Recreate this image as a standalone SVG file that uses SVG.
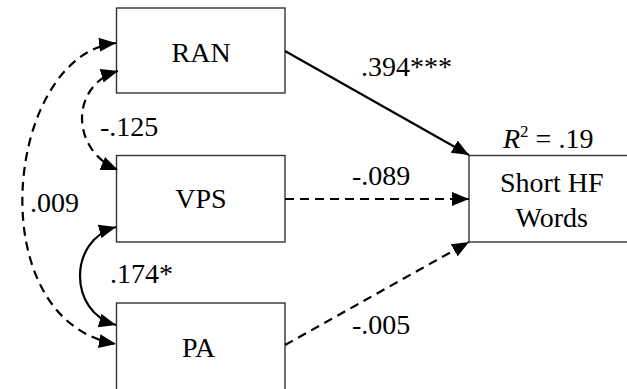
<svg xmlns="http://www.w3.org/2000/svg" width="627" height="389" viewBox="0 0 627 389">
<defs>
<style>
.box{fill:#fff;stroke:#333;stroke-width:1.4}
.e{fill:none;stroke:#000;stroke-width:2.2}
.d{stroke-dasharray:9,6}
</style>
<marker id="ah" viewBox="0 0 17 14" refX="17" refY="7" markerWidth="17" markerHeight="14" markerUnits="userSpaceOnUse" orient="auto-start-reverse">
<path d="M0,0 L17,7 L0,14 Z" fill="#000"/>
</marker>
</defs>
<rect width="627" height="389" fill="#fff"/>
<g id="RAN"><rect class="box" x="116.5" y="8" width="168.5" height="85"/><text x="171.5" y="62" font-family="Liberation Serif" font-size="28">RAN</text></g>
<g id="VPS"><rect class="box" x="116.5" y="155.5" width="168.5" height="86.5"/><text x="175.3" y="208" font-family="Liberation Serif" font-size="28">VPS</text></g>
<g id="PA"><rect class="box" x="116.5" y="303" width="168.5" height="100"/><text x="182" y="357" font-family="Liberation Serif" font-size="28">PA</text></g>
<g id="ShortHF"><rect class="box" x="469" y="155.5" width="200" height="86.5"/><text x="500" y="192" font-family="Liberation Serif" font-size="28">Short HF</text><text x="515.5" y="227" font-family="Liberation Serif" font-size="28">Words</text><text x="503" y="148" font-family="Liberation Serif" font-size="28"><tspan font-style="italic">R</tspan><tspan font-size="17" dy="-11">2</tspan><tspan dy="11"> = .19</tspan></text></g>
<g id="connectors">
<path class="e" d="M285,51 L469,155" marker-end="url(#ah)"/>
<path class="e d" d="M285,199 L469,199" marker-end="url(#ah)"/>
<path class="e d" d="M285,345 L469,242" marker-end="url(#ah)"/>
<path class="e d" d="M116,43 C5,55 -22,320 116,344" marker-start="url(#ah)" marker-end="url(#ah)"/>
<path class="e d" d="M118,71 C70,85 70,150 118,170" marker-start="url(#ah)" marker-end="url(#ah)"/>
<path class="e" d="M116,227 C68,240 68,312 116,325" marker-start="url(#ah)" marker-end="url(#ah)"/>
</g>
<text x="361" y="76" font-family="Liberation Serif" font-size="28">.394***</text>
<text x="352" y="185" font-family="Liberation Serif" font-size="28">-.089</text>
<text x="352" y="334" font-family="Liberation Serif" font-size="28">-.005</text>
<text x="100" y="136" font-family="Liberation Serif" font-size="28">-.125</text>
<text x="30" y="212" font-family="Liberation Serif" font-size="28">.009</text>
<text x="110" y="283" font-family="Liberation Serif" font-size="28">.174*</text>
</svg>
